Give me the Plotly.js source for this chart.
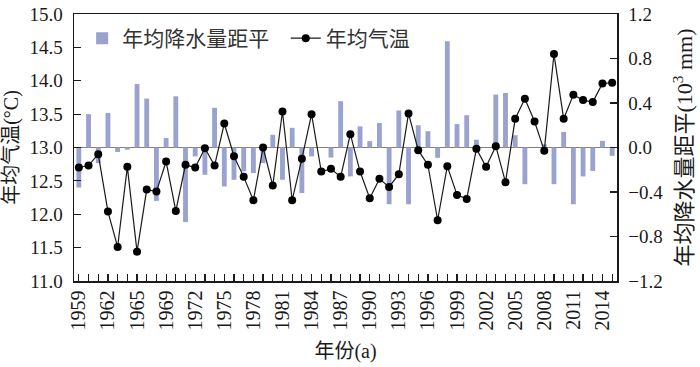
<!DOCTYPE html>
<html>
<head>
<meta charset="utf-8">
<script src="https://cdn.plot.ly/plotly-3.0.1.min.js"></script>
<style>
html, body { margin: 0; padding: 0; background: #fff; }
#chart { width: 700px; height: 367px; }
</style>
</head>
<body>
<div id="chart"></div>
<script>
// years on the x axis (one year is absent between 1965 and 1969 in the source)
const years = [
	1959, 1960, 1961, 1962, 1963, 1964, 1965, 1966, 1967,
	1969, 1970, 1971, 1972, 1973, 1974, 1975, 1976, 1977, 1978, 1979,
	1980, 1981, 1982, 1983, 1984, 1985, 1986, 1987, 1988, 1989,
	1990, 1991, 1992, 1993, 1994, 1995, 1996, 1997, 1998, 1999,
	2000, 2001, 2002, 2003, 2004, 2005, 2006, 2007, 2008, 2009,
	2010, 2011, 2012, 2013, 2014, 2015
];

// annual mean temperature (°C)
const tempMean = [
	12.70, 12.73, 12.90, 12.04, 11.51, 12.71, 11.44, 12.37, 12.34,
	12.79, 12.05, 12.74, 12.70, 12.99, 12.73, 13.36, 12.87, 12.56, 12.21, 13.00,
	12.43, 13.54, 12.21, 12.83, 13.50, 12.64, 12.68, 12.56, 13.20, 12.64,
	12.24, 12.53, 12.41, 12.60, 13.51, 12.96, 12.74, 11.91, 12.72, 12.29,
	12.23, 12.98, 12.71, 13.02, 12.48, 13.43, 13.73, 13.39, 12.95, 14.40,
	13.43, 13.79, 13.71, 13.68, 13.96, 13.97
];

// annual precipitation anomaly (10^3 mm)
const precipAnomaly = [
	-0.36, 0.30, -0.14, 0.31, -0.04, -0.02, 0.57, 0.44, -0.48,
	0.085, 0.46, -0.67, -0.08, -0.245, 0.357, -0.35, -0.29, -0.215, -0.23, -0.14,
	0.114, -0.29, 0.177, -0.41, -0.08, 0.0, -0.09, 0.416, -0.26, 0.19,
	0.057, 0.22, -0.51, 0.333, -0.51, 0.20, 0.146, -0.093, 0.955, 0.21,
	0.29, 0.07, 0.0, 0.476, 0.49, 0.11, -0.33, 0.0, 0.03, -0.33,
	0.14, -0.51, -0.26, -0.21, 0.06, -0.075
];

// labelled years along the bottom
const tickYears = [1959, 1962, 1965, 1969, 1972, 1975, 1978, 1981, 1984, 1987,
	1990, 1993, 1996, 1999, 2002, 2005, 2008, 2011, 2014];

const FONT = 'Liberation Serif, "Noto Sans CJK SC", serif';
const INK = '#1a1a1a';

const idx = years.map(( y, i ) => i);

const data = [
	{
		type: 'bar',
		name: '年均降水量距平',
		x: idx,
		y: precipAnomaly,
		yaxis: 'y',
		width: 0.5,
		marker: { color: '#9aa2cf' },
		legend: 'legend',
		hoverinfo: 'skip',
	},
	{
		type: 'scatter',
		mode: 'lines+markers',
		name: '年均气温',
		x: idx,
		y: tempMean,
		yaxis: 'y2',
		line: { color: '#1a1a1a', width: 1.2 },
		marker: { color: '#000', size: 8 },
		legend: 'legend2',
		hoverinfo: 'skip',
	},
];

const layout = {
	width: 700,
	height: 367,
	margin: { l: 74, r: 83, t: 14, b: 86 },
	paper_bgcolor: '#fff',
	plot_bgcolor: '#fff',
	font: { family: FONT, size: 19, color: INK },
	showlegend: true,
	legend: {
		x: 0.015, y: 0.985, xanchor: 'left', yanchor: 'top',
		orientation: 'h',
		bgcolor: 'rgba(0,0,0,0)',
		font: { size: 21, color: '#333' },
	},
	legend2: {
		x: 0.39, y: 0.985, xanchor: 'left', yanchor: 'top',
		orientation: 'h',
		bgcolor: 'rgba(0,0,0,0)',
		font: { size: 21, color: '#333' },
	},
	xaxis: {
		range: [ -0.5, years.length - 0.5 ],
		tickmode: 'array',
		tickvals: tickYears.map(y => years.indexOf(y)),
		ticktext: tickYears.map(String),
		tickangle: -90,
		tickfont: { size: 20 },
		ticks: 'inside',
		ticklen: 7,
		tickwidth: 1.2,
		tickcolor: INK,
		minor: { dtick: 1, tick0: 0, ticks: 'inside', ticklen: 7, tickwidth: 1.2, tickcolor: INK },
		showline: true,
		linecolor: INK,
		linewidth: 1.5,
		mirror: true,
		showgrid: false,
		zeroline: false,
		title: { text: '年份(a)', font: { size: 20 }, standoff: 14 },
	},
	// precipitation anomaly: right side, base subplot so bars sit under the line
	yaxis: {
		side: 'right',
		range: [ -1.2, 1.2 ],
		dtick: 0.4,
		tick0: 0,
		tickformat: '.1f',
		ticks: 'inside',
		ticklen: 7,
		tickwidth: 1.2,
		tickcolor: INK,
		showline: true,
		linecolor: INK,
		linewidth: 1.5,
		showgrid: false,
		zeroline: true,
		zerolinecolor: '#8a7d73',
		zerolinewidth: 1.5,
		ticklabelstandoff: 6,
		title: { text: '年均降水量距平(10<sup>3</sup> mm)', font: { size: 22 }, standoff: 14 },
	},
	// temperature: left side, overlaid
	yaxis2: {
		overlaying: 'y',
		side: 'left',
		range: [ 11, 15 ],
		dtick: 0.5,
		tick0: 11,
		tickformat: '.1f',
		ticks: 'inside',
		ticklen: 7,
		tickwidth: 1.2,
		tickcolor: INK,
		showline: true,
		linecolor: INK,
		linewidth: 1.5,
		showgrid: false,
		zeroline: false,
		ticklabelstandoff: 6,
		title: { text: '年均气温(°C)', font: { size: 20 }, standoff: 6 },
	},
};

Plotly.newPlot('chart', data, layout, { displayModeBar: false, staticPlot: true });
</script>
</body>
</html>
